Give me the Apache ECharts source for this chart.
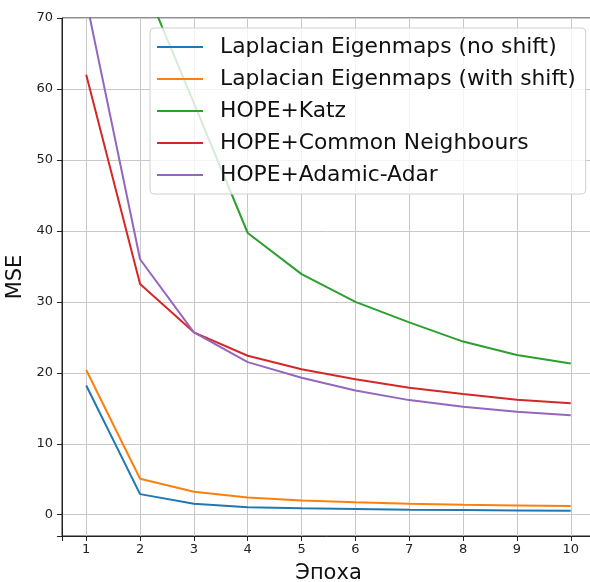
<!DOCTYPE html>
<html>
<head>
  <meta charset="utf-8">
  <script src="https://cdn.jsdelivr.net/npm/echarts@6.0.0/dist/echarts.min.js"></script>
  <style>
    html, body { margin: 0; padding: 0; background: #fff; }
  </style>
</head>
<body>
  <div id="chart" style="width: 590px; height: 582px;"></div>
  <script>
    // данные
    var epochs = [1, 2, 3, 4, 5, 6, 7, 8, 9, 10];
    var seriesNames = [
      'Laplacian Eigenmaps (no shift)',
      'Laplacian Eigenmaps (with shift)',
      'HOPE+Katz',
      'HOPE+Common Neighbours',
      'HOPE+Adamic-Adar'
    ];
    var lapNoShift = [18.2, 2.9, 1.55, 1.05, 0.9, 0.8, 0.7, 0.65, 0.6, 0.56];
    var lapShift = [20.4, 5.07, 3.24, 2.44, 2.0, 1.74, 1.55, 1.41, 1.31, 1.22];
    var hopeKatz = [115, 76.2, 58.0, 39.7, 33.9, 30.0, 27.1, 24.4, 22.5, 21.3];
    var hopeCN = [62.0, 32.5, 25.7, 22.4, 20.5, 19.1, 17.9, 17.0, 16.2, 15.7];
    var hopeAA = [72.5, 36.0, 25.7, 21.5, 19.3, 17.5, 16.15, 15.2, 14.5, 14.0];
    var colors = ['#1f77b4', '#ff7f0e', '#2ca02c', '#d62728', '#9467bd'];

    var allValues = [lapNoShift, lapShift, hopeKatz, hopeCN, hopeAA];

    var chart = echarts.init(document.getElementById('chart'));

    var series = seriesNames.map(function(name, i) {
      return {
        name: name,
        type: 'line',
        symbol: 'none',
        clip: true,
        lineStyle: { width: 2, color: colors[i] },
        itemStyle: { color: colors[i] },
        data: epochs.map(function(e, j) { return [e, allValues[i][j]]; })
      };
    });

    var font = 'DejaVu Sans';

    var option = {
      animation: false,
      color: colors,
      textStyle: { fontFamily: font },
      grid: {
        left: 62, top: 18, width: 533, height: 518,
        containLabel: false,
        outerBoundsMode: 'none',
        show: true, borderColor: '#222', borderWidth: 1
      },
      legend: {
        orient: 'vertical',
        left: 150, top: 28,
        padding: [7, 10, 7, 7],
        icon: 'rect',
        itemWidth: 46, itemHeight: 2, itemGap: 8,
        backgroundColor: 'rgba(255,255,255,0.8)',
        borderColor: '#d0d0d0', borderWidth: 1, borderRadius: 4,
        textStyle: { fontFamily: font, fontSize: 21.8, color: '#111', lineHeight: 24, padding: [0, 0, 0, 12] },
        data: seriesNames
      },
      xAxis: {
        type: 'value',
        min: 0.55, max: 10.45,
        splitNumber: 9,
        name: 'Эпоха',
        nameLocation: 'middle',
        nameGap: 27,
        nameMoveOverlap: false,
        nameTextStyle: { fontFamily: font, fontSize: 21, color: '#111' },
        axisLine: { show: true, onZero: false, lineStyle: { color: '#222', width: 1 } },
        axisTick: { show: true, inside: false, length: 5, lineStyle: { color: '#222' } },
        axisLabel: {
          fontFamily: font, fontSize: 13, color: '#222', margin: 7,
          formatter: function(v) { return Math.abs(v - Math.round(v)) < 1e-6 ? String(Math.round(v)) : ''; }
        },
        splitLine: { show: true, lineStyle: { color: '#c8c8c8', width: 1 } }
      },
      yAxis: {
        type: 'value',
        min: -3, max: 70,
        splitNumber: 7,
        name: 'MSE',
        nameLocation: 'middle',
        nameGap: 36,
        nameMoveOverlap: false,
        nameTextStyle: { fontFamily: font, fontSize: 21, color: '#111' },
        axisLine: { show: true, onZero: false, lineStyle: { color: '#222', width: 1 } },
        axisTick: { show: true, inside: false, length: 5, lineStyle: { color: '#222' } },
        axisLabel: {
          fontFamily: font, fontSize: 13, color: '#222', margin: 9,
          formatter: function(v) { return Math.abs(v % 10) < 1e-6 ? String(v) : ''; }
        },
        splitLine: { show: true, lineStyle: { color: '#c8c8c8', width: 1 } }
      },
      series: series
    };

    chart.setOption(option);
  </script>
</body>
</html>
